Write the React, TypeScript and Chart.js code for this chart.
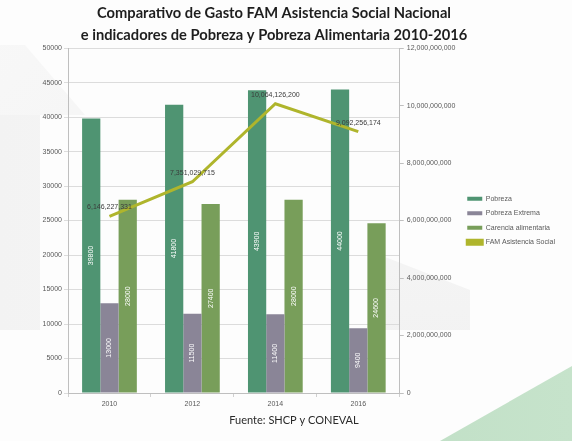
import React, { useEffect, useRef } from "react";
import { Chart, registerables } from "chart.js";

Chart.register(...registerables);

const categories = ["2010", "2012", "2014", "2016"];
const pobreza = [39800, 41800, 43900, 44000];
const pobrezaExtrema = [13000, 11500, 11400, 9400];
const carenciaAlimentaria = [28000, 27400, 28000, 24600];
const famAsistenciaSocial = [6146227331, 7351029715, 10064126200, 9092256174];
const seriesNames = ["Pobreza", "Pobreza Extrema", "Carencia alimentaria", "FAM Asistencia Social"];
const titleLines = [
  "Comparativo de Gasto FAM Asistencia Social Nacional",
  "e indicadores de Pobreza y Pobreza Alimentaria 2010-2016",
];
const footerText = "Fuente: SHCP y CONEVAL";

const fmt = (v: number) => v.toLocaleString("en-US");

const labelsPlugin = {
  id: "valueLabels",
  afterDatasetsDraw(chart: any) {
    const ctx = chart.ctx;
    chart.data.datasets.forEach((ds: any, i: number) => {
      const meta = chart.getDatasetMeta(i);
      if (!chart.isDatasetVisible(i)) return;
      meta.data.forEach((el: any, j: number) => {
        const v = ds.data[j];
        ctx.save();
        if (ds.type === "line") {
          ctx.font = "7px 'Liberation Sans'";
          ctx.fillStyle = "#3a3a3a";
          ctx.textAlign = "center";
          ctx.textBaseline = "middle";
          ctx.fillText(fmt(v), el.x, el.y - 9);
        } else {
          const p = el.getProps(["x", "y", "base"], true);
          ctx.translate(p.x, (p.y + p.base) / 2);
          ctx.rotate(-Math.PI / 2);
          ctx.font = "7px 'Liberation Sans'";
          ctx.fillStyle = "#ffffff";
          ctx.textAlign = "center";
          ctx.textBaseline = "middle";
          ctx.fillText(String(v), 0, 0);
        }
        ctx.restore();
      });
    });
  },
};

const footerPlugin = {
  id: "footerText",
  afterDraw(chart: any) {
    const ctx = chart.ctx;
    ctx.save();
    ctx.font = "11px Lato";
    ctx.fillStyle = "#2a2a2a";
    ctx.textAlign = "center";
    ctx.textBaseline = "middle";
    ctx.fillText(footerText, chart.width / 2 + 8, chart.chartArea.bottom + 27);
    ctx.restore();
  },
};

export default function App() {
  const ref = useRef<HTMLCanvasElement | null>(null);

  useEffect(() => {
    if (!ref.current) return;
    const chart = new Chart(ref.current, {
      type: "bar",
      data: {
        labels: categories,
        datasets: [
          {
            type: "bar",
            label: seriesNames[0],
            data: pobreza,
            backgroundColor: "#4f9472",
            yAxisID: "y",
            order: 1,
            categoryPercentage: 0.66,
            barPercentage: 1,
          },
          {
            type: "bar",
            label: seriesNames[1],
            data: pobrezaExtrema,
            backgroundColor: "#8a8597",
            yAxisID: "y",
            order: 1,
            categoryPercentage: 0.66,
            barPercentage: 1,
          },
          {
            type: "bar",
            label: seriesNames[2],
            data: carenciaAlimentaria,
            backgroundColor: "#789e5a",
            yAxisID: "y",
            order: 1,
            categoryPercentage: 0.66,
            barPercentage: 1,
          },
          {
            type: "line",
            label: seriesNames[3],
            data: famAsistenciaSocial,
            borderColor: "#afb52c",
            backgroundColor: "#afb52c",
            borderWidth: 3,
            pointRadius: 0,
            tension: 0,
            yAxisID: "y1",
            order: 0,
          } as any,
        ],
      },
      options: {
        animation: false,
        responsive: false,
        maintainAspectRatio: false,
        layout: { padding: { left: -17, right: 7, top: 0, bottom: 0 } },
        plugins: {
          title: {
            display: true,
            text: titleLines,
            font: { family: "Lato", size: 14.7, weight: "bold", lineHeight: 1.5 },
            color: "#1e1e1e",
            padding: { top: 2, bottom: 2 },
          },
          legend: {
            position: "right",
            align: "center",
            maxWidth: 140,
            labels: {
              boxWidth: 15,
              boxHeight: 4,
              padding: 7.5,
              color: "#595959",
              font: { family: "Liberation Sans", size: 7 },
              sort: (a: any, b: any) => a.datasetIndex - b.datasetIndex,
            },
          },
          tooltip: { enabled: false },
        },
        scales: {
          x: {
            grid: { drawOnChartArea: false, drawTicks: true, tickLength: 4, color: "#d0d0d0" },
            border: { color: "#bfbfbf" },
            ticks: { color: "#595959", font: { family: "Liberation Sans", size: 7 }, padding: 3 },
            afterFit(scale: any) {
              scale.height = 48;
            },
          },
          y: {
            position: "left",
            min: 0,
            max: 50000,
            ticks: {
              stepSize: 5000,
              color: "#595959",
              font: { family: "Liberation Sans", size: 7 },
              padding: 2,
              callback: (v: any) => String(v),
            },
            grid: { color: "#dcdcdc", tickLength: 4 },
            border: { color: "#bfbfbf" },
            afterFit(scale: any) {
              scale.width = 85;
            },
          },
          y1: {
            position: "right",
            min: 0,
            max: 12000000000,
            ticks: {
              stepSize: 2000000000,
              color: "#595959",
              font: { family: "Liberation Sans", size: 7 },
              padding: 3,
              callback: (v: any) => fmt(Number(v)),
            },
            grid: { drawOnChartArea: false, tickLength: 4, color: "#bfbfbf" },
            border: { color: "#bfbfbf" },
            afterFit(scale: any) {
              scale.width = 60;
            },
          },
        },
      },
      plugins: [labelsPlugin, footerPlugin],
    });
    return () => chart.destroy();
  }, []);

  const layer = (clip: string, bg: string) => (
    <div style={{ position: "absolute", inset: 0, clipPath: clip, background: bg }} />
  );

  return (
    <div
      style={{
        position: "absolute",
        left: 0,
        top: 0,
        width: 572,
        height: 441,
        overflow: "hidden",
        background: "#fdfdfd",
      }}
    >
      {layer("polygon(0px 45px, 25px 45px, 85px 115px, 0px 115px)", "linear-gradient(135deg, #f8f8f8, #ededed)")}
      {layer("polygon(0px 115px, 40px 115px, 40px 330px, 0px 330px)", "linear-gradient(90deg, #f3f3f3, #fbfbfb)")}
      {layer("polygon(380px 255px, 470px 290px, 470px 330px, 380px 330px)", "linear-gradient(180deg, #fafafa, #f0f0f0)")}
      {layer("polygon(440px 441px, 572px 366px, 572px 441px)", "linear-gradient(90deg, #b6d9bd, #c6e3cb)")}
      <canvas ref={ref} width={572} height={441} style={{ position: "absolute", left: 0, top: 0 }} />
    </div>
  );
}
